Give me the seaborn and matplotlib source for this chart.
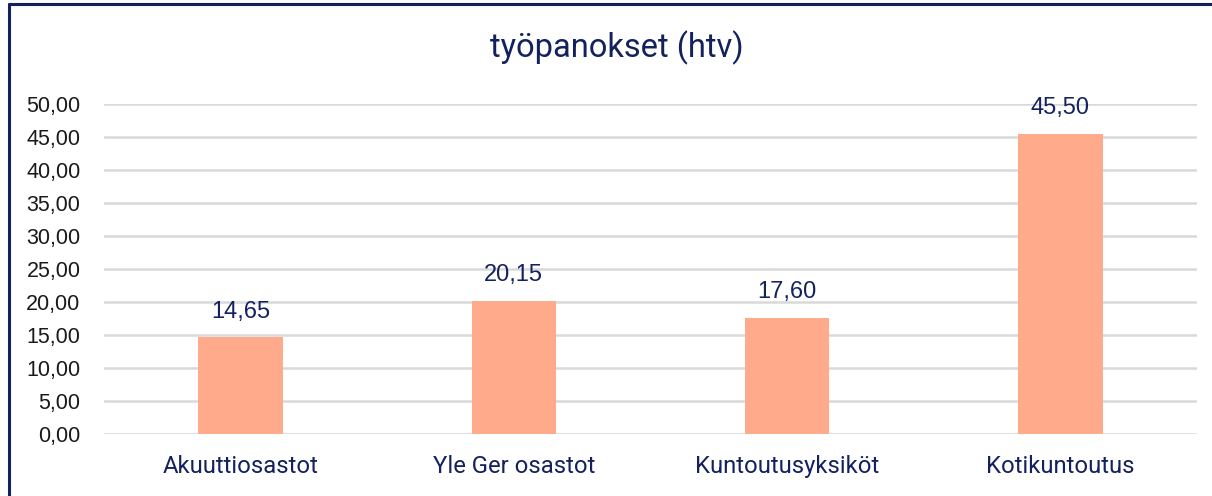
import matplotlib
matplotlib.use("Agg")
import matplotlib.pyplot as plt
import seaborn as sns
import pandas as pd
from matplotlib.lines import Line2D

categories = ["Akuuttiosastot", "Yle Ger osastot", "Kuntoutusyksiköt", "Kotikuntoutus"]
values = [14.65, 20.15, 17.60, 45.50]
yticks = [0, 5, 10, 15, 20, 25, 30, 35, 40, 45, 50]

navy = "#13215E"
bar_color = "#FFAA8A"
grid_color = "#D9D9D9"

def fi(v):
    return f"{v:.2f}".replace(".", ",")

df = pd.DataFrame({"yksikkö": categories, "htv": values})

sns.set_theme(style="white")
fig = plt.figure(figsize=(12.12, 4.96), dpi=100)
ax = fig.add_axes([0.0858, 0.125, 0.9018, 0.6653])

sns.barplot(data=df, x="yksikkö", y="htv", color=bar_color, width=0.31,
            saturation=1, linewidth=0, edgecolor="none", ax=ax, zorder=3)

ax.set_ylim(0, 50)
ax.set_yticks(yticks)
ax.set_yticklabels([fi(t) for t in yticks], fontsize=15.5,
                   family="Liberation Sans", color="#1a1a1a")
ax.set_xlim(-0.5, 3.5)
ax.set_xticks(range(len(categories)))
ax.set_xticklabels(categories, fontsize=17.2, family="Roboto", color=navy)
ax.tick_params(axis="y", length=0, pad=17)
ax.tick_params(axis="x", length=0, pad=15)
ax.set_xlabel("")
ax.set_ylabel("")
for s in ax.spines.values():
    s.set_visible(False)
for t in yticks:
    ax.axhline(t, color=grid_color, lw=1.8, zorder=1)

for i, v in enumerate(values):
    ax.annotate(fi(v), (i, v), xytext=(0, 10.5), textcoords="offset points",
                ha="center", va="bottom", fontsize=17,
                family="Liberation Sans", color=navy)

fig.text(0.509, 0.903, "työpanokset (htv)", ha="center", va="center",
         fontsize=23.5, family="Roboto", color=navy)

# frame around the chart (left and top edges)
fig.add_artist(Line2D([0.0078, 0.0078], [0, 0.992], transform=fig.transFigure,
                      color=navy, lw=2.2))
fig.add_artist(Line2D([0.0078, 1.0], [0.992, 0.992], transform=fig.transFigure,
                      color=navy, lw=2.2))

fig.savefig("out.png", dpi=100)
